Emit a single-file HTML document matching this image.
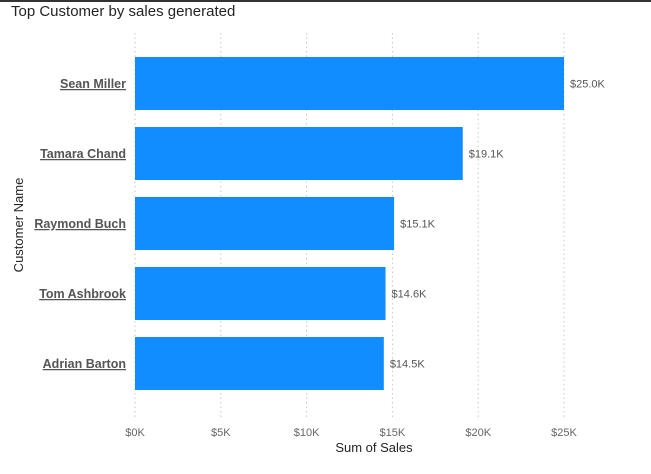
<!DOCTYPE html>
<html><head><meta charset="utf-8"><style>
body{margin:0;width:651px;height:474px;background:#fff;overflow:hidden;font-family:"Liberation Sans",sans-serif;}
#top{position:absolute;left:0;top:0;width:651px;height:2px;background:#333;}
#title{position:absolute;left:11px;top:3px;font-size:15px;color:#252423;}
svg{position:absolute;left:0;top:0;}
</style></head><body>
<div id="top"></div>
<div id="title">Top Customer by sales generated</div>
<svg id="chart" width="651" height="474"></svg>
<script>
const categories=["Sean Miller","Tamara Chand","Raymond Buch","Tom Ashbrook","Adrian Barton"];
const values=[25.0,19.1,15.1,14.6,14.5];
const valueLabels=["$25.0K","$19.1K","$15.1K","$14.6K","$14.5K"];
const ticks=[0,5,10,15,20,25];
const tickLabels=["$0K","$5K","$10K","$15K","$20K","$25K"];
const NS="http://www.w3.org/2000/svg";
const svg=document.getElementById('chart');
const x0=135,x1=564,xmax=25;
const xs=v=>x0+(v/xmax)*(x1-x0);
const yTop=57,pitch=70,bh=53;
const ys=i=>yTop+i*pitch;
function mk(t,a){const e=document.createElementNS(NS,t);for(const k in a)e.setAttribute(k,a[k]);svg.appendChild(e);return e;}
ticks.forEach((t,i)=>{
 const g=mk('line',{x1:xs(t),x2:xs(t),y1:33,y2:420,stroke:'#c8c8c8','stroke-dasharray':'1.5,3','stroke-width':1});
 
 
 const l=mk('text',{x:xs(t),y:436,'text-anchor':'middle','font-size':11,fill:'#666'});
 l.textContent=tickLabels[i];
 
 
});
categories.forEach((c,i)=>{
 const r=mk('rect',{x:x0,y:ys(i),width:xs(values[i])-x0,height:bh,fill:'#118dff'});
 
 
 const t=mk('text',{x:126,y:ys(i)+bh/2+4.5,'text-anchor':'end','font-size':12.5,'font-weight':'bold',fill:'#555','text-decoration':'underline'});
 t.textContent=c;
 
 
 const v=mk('text',{x:xs(values[i])+6,y:ys(i)+bh/2+4,'font-size':11,fill:'#555'});
 v.textContent=valueLabels[i];
 
 
});
const xt=mk('text',{x:374,y:452,'text-anchor':'middle','font-size':13,fill:'#252423'});
xt.textContent='Sum of Sales';


const yt=mk('text',{x:0,y:0,'text-anchor':'middle','font-size':13,fill:'#252423',transform:'translate(23,225) rotate(-90)'});
yt.textContent='Customer Name';


</script>
</body></html>
